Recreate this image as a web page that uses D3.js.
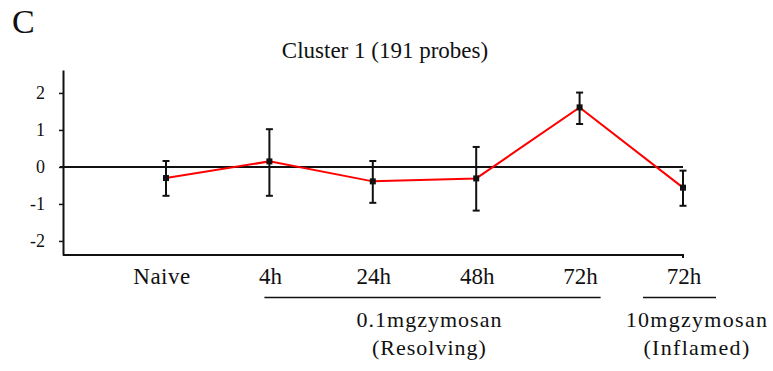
<!DOCTYPE html>
<html>
<head>
<meta charset="utf-8">
<script src="https://cdn.jsdelivr.net/npm/d3@7"></script>
<style>
  body { margin: 0; background: #fff; }
  text { font-family: "Liberation Serif", "Times New Roman", serif; fill: #111; }
</style>
</head>
<body>
<div id="chart"></div>
<script>
const width = 773;
const height = 371;

// chart data
const categoryIds = ['naive', '4h', '24h', '48h', '72h', '72h-inflamed'];
const categoryLabels = ['Naive', '4h', '24h', '48h', '72h', '72h'];
const means = [-0.30, 0.15, -0.39, -0.31, 1.61, -0.56];
const upperErr = [0.16, 1.02, 0.16, 0.54, 2.01, -0.10];
const lowerErr = [-0.78, -0.78, -0.97, -1.18, 1.16, -1.05];
const yTicks = [-2, -1, 0, 1, 2];
const groupNames = [['0.1mgzymosan', '(Resolving)'], ['10mgzymosan', '(Inflamed)']];
const groupSpans = [['4h', '72h'], ['72h-inflamed', '72h-inflamed']];

const axisX = 63;
const axisTop = 70;
const axisBottom = 255;
const serif = '"Liberation Serif", "Times New Roman", serif';

const svg = d3.select('#chart')
  .append('svg')
  .attr('width', width)
  .attr('height', height);

svg.append('rect').attr('width', width).attr('height', height).attr('fill', '#fff');

const x = d3.scalePoint().domain(categoryIds).range([166, 683]);
const y = d3.scaleLinear().domain([-2.38, 2.62]).range([axisBottom, axisTop]);

const data = categoryIds.map((id, i) => ({
  id, label: categoryLabels[i], mean: means[i], hi: upperErr[i], lo: lowerErr[i],
}));

// panel letter and title
svg.append('text')
  .attr('x', 12)
  .attr('y', 33)
  .style('font-size', '34px')
  .text('C');

svg.append('text')
  .attr('x', 385)
  .attr('y', 58)
  .attr('text-anchor', 'middle')
  .style('font-size', '23px')
  .text('Cluster 1 (191 probes)');

// y axis
const yAxis = d3.axisLeft(y)
  .tickValues(yTicks)
  .tickSize(4)
  .tickSizeOuter(0)
  .tickPadding(14)
  .tickFormat(d => String(d));

const gy = svg.append('g')
  .attr('transform', `translate(${axisX},0)`)
  .call(yAxis);
gy.select('.domain').attr('stroke', '#111').attr('stroke-width', 2);
gy.selectAll('.tick line').attr('stroke', '#111').attr('stroke-width', 1.5);
gy.selectAll('.tick text')
  .style('font-size', '18px')
  .style('font-family', serif)
  .attr('fill', '#111');

const lastX = x(categoryIds[categoryIds.length - 1]);

// bottom axis line with small end tick
svg.append('path')
  .attr('d', `M${axisX},${axisBottom}H${lastX}v3`)
  .attr('fill', 'none')
  .attr('stroke', '#111')
  .attr('stroke-width', 2);

// zero line
svg.append('line')
  .attr('x1', axisX - 3)
  .attr('x2', lastX)
  .attr('y1', y(0))
  .attr('y2', y(0))
  .attr('stroke', '#111')
  .attr('stroke-width', 2);

// error bars
const bars = svg.append('g').selectAll('g')
  .data(data)
  .enter()
  .append('g')
  .attr('stroke', '#111')
  .attr('stroke-width', 2);

bars.append('line')
  .attr('x1', d => x(d.id))
  .attr('x2', d => x(d.id))
  .attr('y1', d => y(d.hi))
  .attr('y2', d => y(d.lo));

bars.append('line')
  .attr('x1', d => x(d.id) - 3.5)
  .attr('x2', d => x(d.id) + 3.5)
  .attr('y1', d => y(d.hi))
  .attr('y2', d => y(d.hi));

bars.append('line')
  .attr('x1', d => x(d.id) - 3.5)
  .attr('x2', d => x(d.id) + 3.5)
  .attr('y1', d => y(d.lo))
  .attr('y2', d => y(d.lo));

// mean line
const line = d3.line()
  .x(d => x(d.id))
  .y(d => y(d.mean));

svg.append('path')
  .datum(data)
  .attr('d', line)
  .attr('fill', 'none')
  .attr('stroke', '#ff0000')
  .attr('stroke-width', 2);

svg.append('g').selectAll('rect')
  .data(data)
  .enter()
  .append('rect')
  .attr('x', d => x(d.id) - 3)
  .attr('y', d => y(d.mean) - 3)
  .attr('width', 6)
  .attr('height', 6)
  .attr('fill', '#111');

// category labels
svg.append('g').selectAll('text')
  .data(data)
  .enter()
  .append('text')
  .attr('x', d => x(d.id) + (d.id === 'naive' ? -4 : 1))
  .attr('y', 284)
  .attr('text-anchor', 'middle')
  .style('font-size', '23px')
  .style('letter-spacing', d => (d.id === 'naive' ? '0.5px' : '0px'))
  .text(d => d.label);

// treatment groups
groupSpans.forEach((span, i) => {
  const x1 = x(span[0]) - (i === 0 ? 5 : 40);
  const x2 = x(span[1]) + (i === 0 ? 21 : 33);
  svg.append('line')
    .attr('x1', x1)
    .attr('x2', x2)
    .attr('y1', 297.5)
    .attr('y2', 297.5)
    .attr('stroke', '#111')
    .attr('stroke-width', 1.5);
  const cx = i === 0 ? (x1 + x2) / 2 - 3 : x(span[1]) + 14;
  groupNames[i].forEach((t, j) => {
    svg.append('text')
      .attr('x', cx)
      .attr('y', 327 + j * 28)
      .attr('text-anchor', 'middle')
      .style('font-size', '22px')
      .style('letter-spacing', i === 0 ? '1px' : '1.3px')
      .text(t);
  });
});
</script>
</body>
</html>
